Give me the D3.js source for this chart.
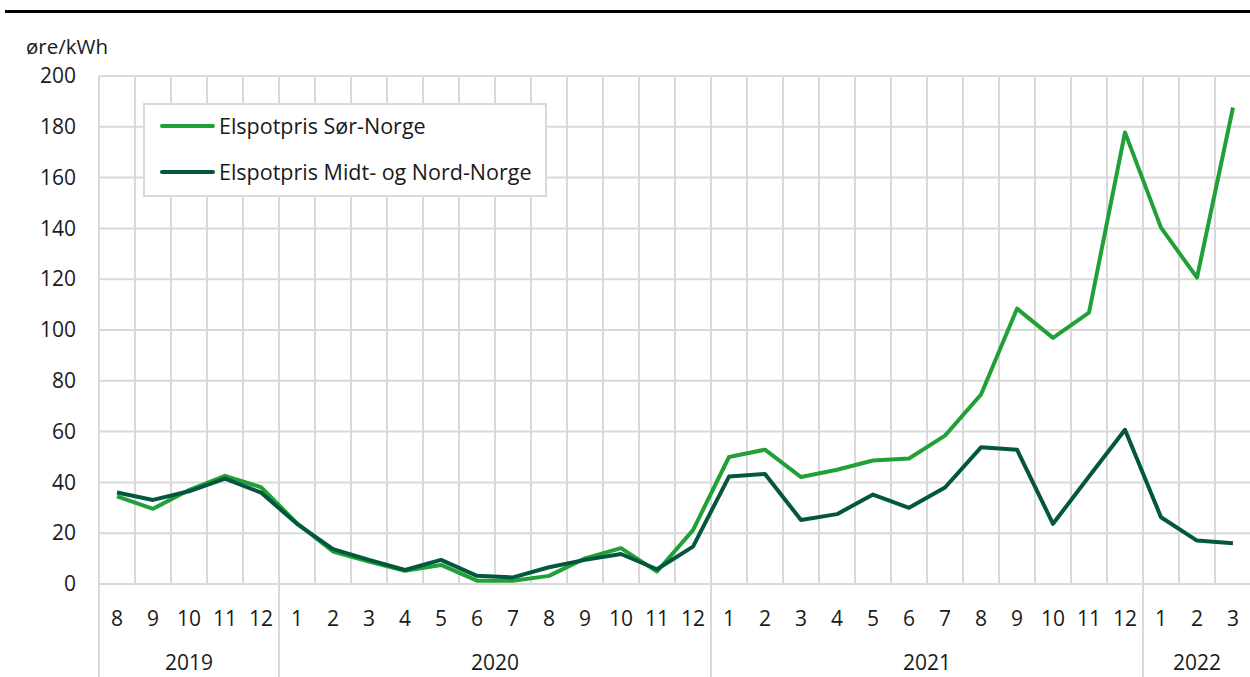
<!DOCTYPE html>
<html>
<head>
<meta charset="utf-8">
<script src="https://cdn.jsdelivr.net/npm/d3@7"></script>
<style>
  html, body { margin: 0; padding: 0; background: #fff; }
  svg { display: block; font-family: "Open Sans", sans-serif; }
</style>
</head>
<body>
<svg id="chart" width="1250" height="677"></svg>
<script>
// ---- data ----
const months = [8, 9, 10, 11, 12, 1, 2, 3, 4, 5, 6, 7, 8, 9, 10, 11, 12, 1, 2, 3, 4, 5, 6, 7, 8, 9, 10, 11, 12, 1, 2, 3];
const yearLabels = ["2019", "2020", "2021", "2022"];
const yearCounts = [5, 12, 12, 3];
const sorNorge = [34.5, 29.6, 37.0, 42.6, 38.1, 23.9, 12.8, 8.8, 5.2, 7.5, 1.3, 1.3, 3.2, 10.1, 14.1, 4.9, 21.2, 50.0, 52.9, 42.1, 45.0, 48.6, 49.4, 58.4, 74.6, 108.4, 96.9, 106.8, 177.8, 140.3, 120.6, 187.6];
const midtNordNorge = [36.0, 33.1, 36.5, 41.5, 36.0, 23.7, 13.7, 9.5, 5.5, 9.5, 3.2, 2.6, 6.6, 9.5, 11.8, 5.8, 14.7, 42.3, 43.3, 25.2, 27.5, 35.2, 30.0, 38.0, 53.8, 52.9, 23.7, 42.3, 60.7, 26.3, 17.1, 16.0];
const yTicks = [0, 20, 40, 60, 80, 100, 120, 140, 160, 180, 200];
const seriesNames = ["Elspotpris Sør-Norge", "Elspotpris Midt- og Nord-Norge"];
const seriesColors = ["#21a038", "#03573d"];
const unitLabel = "øre/kWh";

(function () {
  // ---- layout ----
  const svg = d3.select("#chart");
  const pLeft = 99, pRight = 1251, pTop = 76, pBottom = 584;
  const fontSize = 21;
  const gridColor = "#d9d9d9";
  const textColor = "#1a1a1a";

  const keys = months.map((m, i) => i);
  const x = d3.scaleBand().domain(keys).range([pLeft, pRight]).padding(0);
  const y = d3.scaleLinear().domain([0, 200]).range([pBottom, pTop]);

  // top rule
  svg.append("rect").attr("x", 5).attr("y", 10).attr("width", 1245).attr("height", 3).attr("fill", "#000");

  // horizontal gridlines
  svg.append("g").selectAll("line").data(yTicks).join("line")
    .attr("x1", pLeft).attr("x2", 1250)
    .attr("y1", d => y(d)).attr("y2", d => y(d))
    .attr("stroke", gridColor).attr("stroke-width", 2);

  // vertical gridlines at category boundaries
  svg.append("g").selectAll("line").data(keys).join("line")
    .attr("x1", d => x(d)).attr("x2", d => x(d))
    .attr("y1", pTop).attr("y2", pBottom)
    .attr("stroke", gridColor).attr("stroke-width", 2);

  // year separators below axis
  let cum = 0;
  const yearStarts = yearCounts.map(c => { const s = cum; cum += c; return s; });
  svg.append("g").selectAll("line").data(yearStarts).join("line")
    .attr("x1", d => x(d)).attr("x2", d => x(d))
    .attr("y1", pBottom).attr("y2", 677)
    .attr("stroke", gridColor).attr("stroke-width", 2);

  // y tick labels
  const yAxis = svg.append("g").attr("transform", `translate(${pLeft},0)`)
    .call(d3.axisLeft(y).tickValues(yTicks).tickSize(0).tickPadding(23));
  yAxis.select(".domain").remove();
  yAxis.selectAll("text").attr("font-size", fontSize).attr("font-family", "Open Sans").attr("fill", textColor);

  // unit label
  svg.append("text").attr("x", 26).attr("y", 54).attr("font-size", 20.5).attr("fill", textColor).text(unitLabel);

  // month labels
  svg.append("g").selectAll("text").data(keys).join("text")
    .attr("x", d => x(d) + x.bandwidth() / 2).attr("y", 626)
    .attr("text-anchor", "middle").attr("font-size", fontSize).attr("fill", textColor)
    .text(d => months[d]);

  // year labels
  svg.append("g").selectAll("text").data(yearLabels).join("text")
    .attr("x", (d, i) => (x(yearStarts[i]) + x(yearStarts[i] + yearCounts[i] - 1) + x.bandwidth()) / 2)
    .attr("y", 670)
    .attr("text-anchor", "middle").attr("font-size", fontSize).attr("fill", textColor)
    .text(d => d);

  // lines
  const line = d3.line().x((d, i) => x(i) + x.bandwidth() / 2).y(d => y(d));
  [sorNorge, midtNordNorge].forEach((s, k) => {
    svg.append("path").datum(s).attr("d", line)
      .attr("fill", "none").attr("stroke", seriesColors[k]).attr("stroke-width", 4)
      .attr("stroke-linejoin", "round");
  });

  // legend
  const lg = svg.append("g");
  lg.append("rect").attr("x", 144).attr("y", 104).attr("width", 402).attr("height", 92)
    .attr("fill", "#fff").attr("stroke", gridColor).attr("stroke-width", 2);
  seriesNames.forEach((name, k) => {
    const ly = 126 + k * 46;
    lg.append("line").attr("x1", 162).attr("x2", 213).attr("y1", ly).attr("y2", ly)
      .attr("stroke", seriesColors[k]).attr("stroke-width", 4).attr("stroke-linecap", "round");
    lg.append("text").attr("x", 219).attr("y", ly + 7.5).attr("font-size", 21.5).attr("fill", textColor).text(name);
  });
})();
</script>
</body>
</html>
